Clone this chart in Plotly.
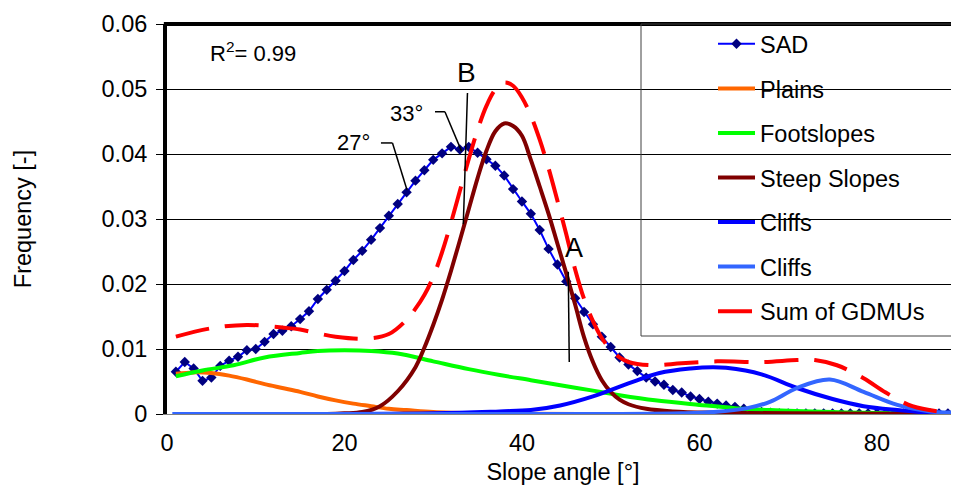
import plotly.graph_objects as go

# ---------------- data ----------------
sad_x = list(range(1, 90))
sad_y = [0.0065, 0.0080, 0.0070, 0.0051, 0.0056, 0.0074, 0.0082, 0.0088, 0.0098, 0.0100,
         0.0111, 0.0123, 0.0128, 0.0135, 0.0146, 0.0158, 0.0177, 0.0191, 0.0205, 0.0220,
         0.0237, 0.0251, 0.0268, 0.0286, 0.0305, 0.0323, 0.0341, 0.0359, 0.0375, 0.0391,
         0.0401, 0.0411, 0.0407, 0.0411, 0.0402, 0.0392, 0.0382, 0.0367, 0.0346, 0.0327,
         0.0308, 0.0283, 0.0254, 0.0230, 0.0204, 0.0178, 0.0157, 0.0138, 0.0119, 0.0103,
         0.0087, 0.0076, 0.0066, 0.0056, 0.0050, 0.0045, 0.0037, 0.0033, 0.0027, 0.0023,
         0.0019, 0.0016, 0.0013, 0.0011, 0.0008, 0.0005, 0.0003, 0.0002, 0.0001, 0.0001,
         0.0001, 0.0001, 0.0001, 0.0001, 0.0001, 0.0001, 0.0001, 0.0001, 0.0001, 0.0001,
         0.0001, 0.0001, 0.0001, 0.0001, 0.0001, 0.0001, 0.0001, 0.0001, 0.0001]

plains_x = [1, 3, 5, 7, 9, 11, 13, 15, 17, 19, 21, 23, 25, 27, 30, 35, 40, 50, 60, 70, 80, 89]
plains_y = [0.0062, 0.0064, 0.0063, 0.0059, 0.0053, 0.0046, 0.0040, 0.0034, 0.0027, 0.0021,
            0.0016, 0.0012, 0.0008, 0.0006, 0.0003, 0.0001, 0.00003, 0, 0, 0, 0, 0]

foot_x = [1, 4, 7.5, 11, 15, 17, 20, 23, 26, 30, 34, 37.5, 41, 44, 48, 51, 55, 60, 64, 68, 75, 82, 89]
foot_y = [0.0058, 0.0067, 0.0075, 0.0087, 0.0094, 0.0097, 0.0098, 0.0097, 0.0093, 0.0081,
          0.0069, 0.0060, 0.0052, 0.0045, 0.0036, 0.0029, 0.0021, 0.0014, 0.0009, 0.0006,
          0.0003, 0.0001, 0.00005]

steep_x = [1, 18, 20, 22, 24, 26, 28, 29, 30, 31, 32, 33, 34, 35, 36, 37, 38, 39, 40, 41, 42,
           43, 44, 45, 46, 47, 48, 49, 50, 51, 52, 54, 57, 62, 70, 89]
steep_y = [0, 0, 0.0001, 0.0003, 0.0012, 0.0035, 0.0072, 0.0102, 0.0137, 0.0176, 0.0220,
           0.0267, 0.0315, 0.0363, 0.0405, 0.0435, 0.0447, 0.0443, 0.0428, 0.0391, 0.0350,
           0.0308, 0.0262, 0.0216, 0.0168, 0.0118, 0.0080, 0.0052, 0.0034, 0.0022, 0.0015,
           0.0008, 0.0004, 0.0002, 0.0001, 0]

cliffs_x = [1, 30, 37.5, 41, 44.3, 48, 52, 55.5, 59, 61.5, 63, 67, 71, 75, 78.5, 82.3, 86, 89]
cliffs_y = [0, 0.0001, 0.0004, 0.0006, 0.0013, 0.0027, 0.0047, 0.0063, 0.0070, 0.0072,
            0.0071, 0.0061, 0.0040, 0.0023, 0.0012, 0.0006, 0.0002, 0.0001]

cliffs2_x = [0.6, 50, 58, 61.6, 65.4, 68, 71, 74.7, 78.5, 82.3, 86, 89]
cliffs2_y = [0, 0, 0.0001, 0.0003, 0.0009, 0.0019, 0.0040, 0.0053, 0.0034, 0.0014, 0.0004, 0.0002]

sum_x = [1, 5, 9, 13, 15, 17, 19, 22.5, 25, 27, 28, 29, 30, 31, 32, 33, 34, 35, 36, 37, 38,
         39, 40, 41, 42, 43, 44, 45, 46, 47, 48, 49, 50, 51, 52, 53, 55, 58, 62, 67, 71, 73,
         75.5, 78.5, 81, 84, 88, 89]
sum_y = [0.0119, 0.0132, 0.0137, 0.0133, 0.0130, 0.0124, 0.0119, 0.0116, 0.0123, 0.0145,
         0.0162, 0.0183, 0.0211, 0.0249, 0.0294, 0.0343, 0.0392, 0.0437, 0.0474, 0.0499,
         0.0510, 0.0505, 0.0487, 0.0459, 0.0422, 0.0378, 0.0328, 0.0276, 0.0222, 0.0177,
         0.0143, 0.0117, 0.0099, 0.0087, 0.0080, 0.0077, 0.0075, 0.0078, 0.0081, 0.0080,
         0.0083, 0.0083, 0.0075, 0.0055, 0.0033, 0.0012, 0.0002, 0.0001]

x_ticks = [0, 20, 40, 60, 80]
y_ticks = [0, 0.01, 0.02, 0.03, 0.04, 0.05, 0.06]
y_ticklabels = ["0", "0.01", "0.02", "0.03", "0.04", "0.05", "0.06"]

FONT = "Liberation Sans, Arial, sans-serif"

fig = go.Figure()
fig.add_trace(go.Scatter(x=sad_x, y=sad_y, name="SAD", mode="lines+markers",
                         line=dict(color="#0000FF", width=2),
                         marker=dict(symbol="diamond", size=8, color="#000080"),
                         legendgroup="a"))
fig.add_trace(go.Scatter(x=plains_x, y=plains_y, name="Plains", mode="lines",
                         line=dict(color="#FF6600", width=4, shape="spline"), legendgroup="b"))
fig.add_trace(go.Scatter(x=foot_x, y=foot_y, name="Footslopes", mode="lines",
                         line=dict(color="#00FF00", width=4, shape="spline"), legendgroup="c"))
fig.add_trace(go.Scatter(x=steep_x, y=steep_y, name="Steep Slopes", mode="lines",
                         line=dict(color="#800000", width=4, shape="spline"), legendgroup="d"))
fig.add_trace(go.Scatter(x=cliffs_x, y=cliffs_y, name="Cliffs", mode="lines",
                         line=dict(color="#0000FF", width=4, shape="spline"), legendgroup="e"))
fig.add_trace(go.Scatter(x=cliffs2_x, y=cliffs2_y, name="Cliffs", mode="lines",
                         line=dict(color="#3366FF", width=4, shape="spline"), legendgroup="f"))
fig.add_trace(go.Scatter(x=sum_x, y=sum_y, name="Sum of GDMUs", mode="lines",
                         line=dict(color="#FF0000", width=4, shape="spline", dash="34px,16px"),
                         legendgroup="g"))

# leader lines for annotations (data coordinates)
lines = [
    ((33.86, 0.0494), (33.39, 0.0292)),   # B
    ((30.2, 0.0465), (31.32, 0.0465)),    # 33° horizontal
    ((31.32, 0.0465), (33.2, 0.0404)),    # 33° diagonal
    ((24.11, 0.0417), (25.41, 0.0417)),   # 27° horizontal
    ((25.41, 0.0417), (27.04, 0.0345)),   # 27° diagonal
    ((45.22, 0.0219), (45.33, 0.0080)),   # A
]
for (x0, y0), (x1, y1) in lines:
    fig.add_shape(type="line", xref="x", yref="y", x0=x0, y0=y0, x1=x1, y1=y1,
                  line=dict(color="black", width=1.5))

# top border of plot
fig.add_shape(type="line", xref="paper", yref="paper", x0=-0.004, x1=1.01, y0=1, y1=1,
              line=dict(color="black", width=4))
# legend frame
fig.add_shape(type="rect", xref="paper", yref="paper", x0=0.5985, x1=1.05, y0=0.2, y1=1,
              line=dict(color="#404040", width=1), layer="above")

fig.add_annotation(x=9.69, y=0.0557, text="R<sup>2</sup>= 0.99", showarrow=False,
                   font=dict(size=22, color="black", family=FONT))
fig.add_annotation(x=33.7, y=0.0526, text="B", showarrow=False,
                   font=dict(size=28, color="black", family=FONT))
fig.add_annotation(x=27.04, y=0.0463, text="33°", showarrow=False,
                   font=dict(size=22, color="black", family=FONT))
fig.add_annotation(x=20.96, y=0.0418, text="27°", showarrow=False,
                   font=dict(size=22, color="black", family=FONT))
fig.add_annotation(x=45.86, y=0.0255, text="A", showarrow=False,
                   font=dict(size=27, color="black", family=FONT))

# the page body has an 8px margin, so the figure is sized/placed to compensate
fig.update_layout(
    width=951, height=477,
    margin=dict(l=159, r=0, t=16, b=71),
    paper_bgcolor="white", plot_bgcolor="white",
    font=dict(family=FONT, size=23.5, color="black"),
    legend=dict(x=0.6894, y=1.005, xanchor="left", yanchor="top",
                bgcolor="rgba(0,0,0,0)", borderwidth=0,
                font=dict(size=23.5, color="black", family=FONT),
                tracegroupgap=11, itemwidth=37, maxheight=460),
    xaxis=dict(range=[0, 89.25], tickvals=x_ticks, showgrid=False, zeroline=False,
               showline=True, linecolor="#808080", linewidth=1, ticks="",
               ticklabelstandoff=8, automargin=False,
               title=dict(text="Slope angle [°]", standoff=13,
                          font=dict(size=23.5, family=FONT))),
    yaxis=dict(range=[0, 0.06], tickvals=y_ticks, ticktext=y_ticklabels,
               showgrid=True, gridcolor="black", gridwidth=1, zeroline=False,
               showline=True, linecolor="black", linewidth=4,
               ticks="outside", ticklen=7, tickcolor="black", tickwidth=1,
               ticklabelstandoff=4, automargin=False,
               title=dict(text="Frequency [-]", standoff=64,
                          font=dict(size=23.5, family=FONT))),
)

fig.write_html("out.html")
